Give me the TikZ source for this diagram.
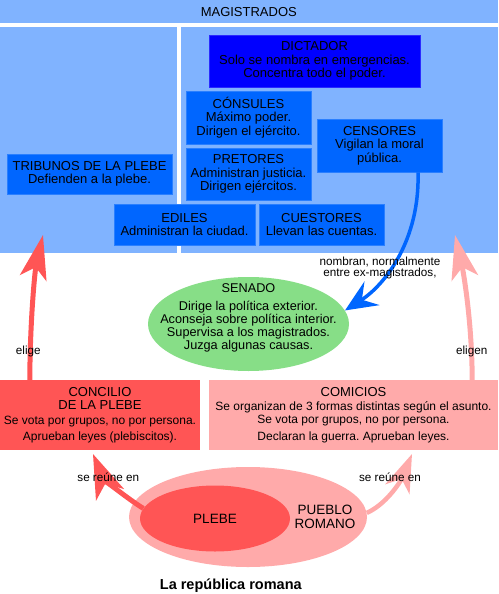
\documentclass[tikz,border=0pt]{standalone}
\usepackage{fontspec}
\setmainfont{Liberation Sans}
\usetikzlibrary{arrows.meta,shapes.geometric,calc}
\definecolor{panel}{HTML}{80B3FF}
\definecolor{mblue}{HTML}{0066FF}
\definecolor{mblueline}{HTML}{2A7FFF}
\definecolor{dblue}{HTML}{0000FF}
\definecolor{dblueline}{HTML}{2A2AFF}
\definecolor{sgreen}{HTML}{87DE87}
\definecolor{pred}{HTML}{FF5555}
\definecolor{ppink}{HTML}{FFAAAA}
\frenchspacing
\begin{document}
\begin{tikzpicture}[x=1pt,y=-1pt,
  magbox/.style={draw=mblueline, fill=mblue, line width=0.8pt, inner sep=0pt, align=center,
    font=\fontsize{13}{13.5}\selectfont},
  lowbox/.style={inner sep=0pt, align=center, font=\fontsize{12}{13}\selectfont},
  lbl/.style={inner sep=0pt, font=\fontsize{11.7}{11.7}\selectfont},
  redarrow/.style={draw=pred, line width=5pt, -{Stealth[length=44pt,width=27pt,inset=11pt]}},
  pinkarrow/.style={draw=ppink, line width=5pt, -{Stealth[length=44pt,width=27pt,inset=11pt]}},
  bluearrow/.style={draw=mblue, line width=3.5pt, -{Stealth[length=32pt,width=28pt,inset=12pt]}}
]
\useasboundingbox (0,0) rectangle (498,594);
% magistrate region
\fill[panel] (0,0) rectangle (498,253);
\draw[white, line width=4pt] (0,24.7) -- (498,24.7);
\draw[white, line width=4pt] (179,24.7) -- (179,253);
\node[inner sep=0pt, font=\fontsize{13}{13}\selectfont] (magtitle) at (248.8,12) {MAGISTRADOS};

\node[magbox, fill=dblue, draw=dblueline, minimum width=211, minimum height=52] (dict) at (314.5,61)
  {DICTADOR\\Solo se nombra en emergencias.\\Concentra todo el poder.};
\node[magbox, minimum width=125, minimum height=53] (cons) at (248.5,117.5)
  {CÓNSULES\\Máximo poder.\\Dirigen el ejército.};
\node[magbox, minimum width=125, minimum height=52] (pret) at (248.5,174)
  {PRETORES\\Administran justicia.\\Dirigen ejércitos.};
\node[magbox, minimum width=125, minimum height=53] (cens) at (379.5,145.5)
  {CENSORES\\Vigilan la moral\\pública.};
\node[magbox, minimum width=165, minimum height=40] (trib) at (89.5,174)
  {TRIBUNOS DE LA PLEBE\\Defienden a la plebe.};
\node[magbox, minimum width=141, minimum height=41] (edil) at (184.5,224.5)
  {EDILES\\Administran la ciudad.};
\node[magbox, minimum width=125, minimum height=41] (cuest) at (321.5,224.5)
  {CUESTORES\\Llevan las cuentas.};

% senate
\node[ellipse, fill=sgreen, minimum width=201, minimum height=94, inner sep=0pt] (sen) at (248.5,324) {};
\node[align=center, inner sep=0pt, font=\fontsize{12.7}{13}\selectfont] (sentext) at (248.5,317.5)
  {SENADO\\[5pt]Dirige la política exterior.\\Aconseja sobre política interior.\\Supervisa a los magistrados.\\Juzga algunas causas.};

% assemblies
\node[lowbox, fill=pred, minimum width=200, minimum height=70] (conc) at (100,415)
  {{\fontsize{13}{13}\selectfont CONCILIO}\\{\fontsize{13}{13}\selectfont DE LA PLEBE}\\[2pt]Se vota por grupos, no por persona.\\[3pt]Aprueban leyes (plebiscitos).};
\node[lowbox, fill=ppink, minimum width=289, minimum height=70] (comi) at (353.5,415)
  {{\fontsize{13}{13}\selectfont COMICIOS}\\[1.7pt]Se organizan de 3 formas distintas según el asunto.\\Se vota por grupos, no por persona.\\[3.6pt]Declaran la guerra. Aprueban leyes.};

% people
\node[ellipse, fill=ppink, minimum width=238, minimum height=100, inner sep=0pt] (pueblo) at (248,517) {};
\node[ellipse, fill=pred, minimum width=150, minimum height=66, inner sep=0pt,
  font=\fontsize{13.5}{13.5}\selectfont] (plebe) at (215,518.5) {PLEBE};
\node[align=center, inner sep=0pt, font=\fontsize{13.5}{14}\selectfont] (pueblotext) at (325,517) {PUEBLO\\ROMANO};

% targets
\coordinate (tribtarget) at (43,235);
\coordinate (magtarget) at (455,235);
\coordinate (conctarget) at (93,454);
\coordinate (comitarget) at (412,454);

% connectors
\draw[redarrow] ($(conc.north west)+(30,0)$) .. controls (30,320) and (35,270) .. (tribtarget);
\draw[pinkarrow] ($(comi.north east)+(-26,0)$) .. controls (472,320) and (463,270) .. (magtarget);
\draw[bluearrow] ($(cens.south)+(38.5,0)$) .. controls (420,240) and (385,285) .. (sen.8);
\draw[draw=pred, line width=5pt, -{Stealth[length=44pt,width=30pt,inset=12pt]}]
  (plebe.172) .. controls (125,497) and (103,478) .. (conctarget);
\draw[draw=ppink, line width=4.5pt, -{Stealth[length=38pt,width=26pt,inset=11pt]}]
  (pueblo.2) .. controls (385,505) and (400,483) .. (comitarget);

% labels
\node[lbl] (lelige) at (28.3,351) {elige};
\node[lbl] (leligen) at (471.7,351) {eligen};
\node[lbl, align=center, font=\fontsize{11.7}{11.7}\selectfont] (lnombran) at (380,268) {nombran, normalmente\\entre ex-magistrados,};
\node[lbl] (lreune1) at (108.3,477) {se reúne en};
\node[lbl] (lreune2) at (390,477) {se reúne en};
\node[inner sep=0pt, font=\bfseries\fontsize{14.5}{15}\selectfont] (title) at (230.8,586) {La república romana};
\end{tikzpicture}
\end{document}
